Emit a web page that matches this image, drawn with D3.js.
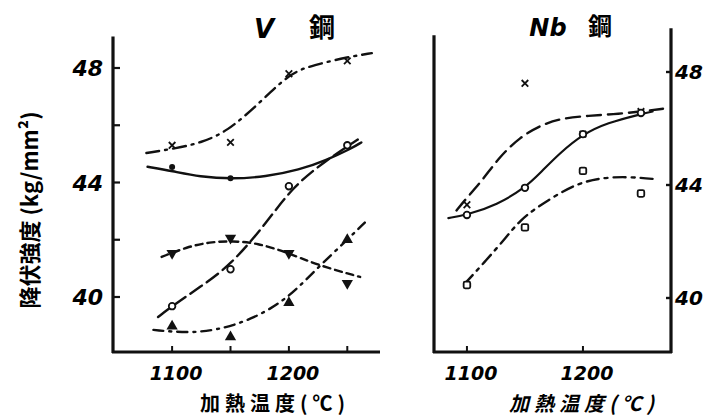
<!DOCTYPE html>
<html>
<head>
<meta charset="utf-8">
<script src="https://cdn.jsdelivr.net/npm/d3@7"></script>
<style>
  body { margin: 0; background: #fff; }
  svg { display: block; }
  .num { font-family: "DejaVu Sans", sans-serif; font-style: italic; font-weight: bold; }
  .cjk { font-family: "Noto Sans CJK JP", sans-serif; font-weight: bold; }
</style>
</head>
<body>
<div id="chart"></div>
<script>
// heating temperatures (deg C)
const temps = [1100, 1150, 1200, 1250];

// V steel, measured yield strength (kg/mm2)
const vCross  = [45.3, 45.4, 47.8, 48.25];
const vDot    = [44.54, 44.15, null, 45.3];
const vCircle = [39.68, 40.97, 43.87, 45.3];
const vDown   = [41.53, 42.06, 41.53, 40.48];
const vUp     = [38.98, 38.6, 39.8, 42.0];

// V steel, hand drawn curves [temp, value]
const vCrossCurve  = [[1078,45.03],[1104,45.2],[1124,45.38],[1147,45.77],[1175,46.78],[1201,47.83],[1221,48.1],[1250,48.38],[1271,48.52]];
const vDotCurve    = [[1079,44.55],[1100,44.4],[1124,44.2],[1151,44.12],[1180,44.2],[1209,44.44],[1232,44.78],[1254,45.2],[1262,45.4]];
const vCircleCurve = [[1088,39.3],[1100,39.68],[1124,40.35],[1150,41.1],[1181,42.6],[1203,43.84],[1232,44.78],[1259,45.5]];
const vDownCurve   = [[1091,41.4],[1113,41.75],[1132,41.92],[1152,41.96],[1173,41.88],[1198,41.57],[1224,41.12],[1261,40.7]];
const vUpCurve     = [[1084,38.85],[1113,38.74],[1138,38.84],[1167,39.19],[1198,39.9],[1224,41.0],[1250,42.0],[1265,42.6]];

// Nb steel, measured
const nbCross  = [43.3, 47.6, 45.8, 46.6];
const nbCircle = [42.94, 43.9, 45.8, 46.55];
const nbSquare = [40.46, 42.5, 44.5, 43.7];

// Nb steel, curves
const nbCrossCurve  = [[1091,43.1],[1100,43.55],[1114,44.2],[1128,45.0],[1146,45.7],[1163,46.1],[1180,46.35],[1203,46.45],[1226,46.5],[1250,46.6],[1269,46.7]];
const nbCircleCurve = [[1084,42.83],[1100,42.94],[1126,43.3],[1150,43.9],[1163,44.42],[1180,45.13],[1200,45.8],[1221,46.2],[1249,46.5],[1260,46.6]];
const nbSquareCurve = [[1098,40.5],[1117,41.35],[1134,42.16],[1146,42.76],[1160,43.2],[1180,43.72],[1197,44.07],[1215,44.25],[1238,44.3],[1264,44.2]];

const vXTicks = [1100, 1150, 1200, 1250];
const nbXTicks = [1100, 1200];
const xTickLabels = ["1100", "1200"];
const vYTicks = [40, 42, 44, 46, 48];
const yTickLabels = [40, 44, 48];

const W = 720, H = 419;
const svg = d3.select("#chart").append("svg").attr("width", W).attr("height", H);

// scales
let xV = d3.scaleLinear().domain([1049.4, 1278]).range([113, 380]);
let yV = d3.scaleLinear().domain([40, 48]).range([297, 68]);
let xN = d3.scaleLinear().domain([1071.6, 1275.9]).range([434, 671]);
let yN = d3.scaleLinear().domain([40, 48]).range([298, 72]);

const ink = "#111";

function drawCurve(x, y, pts, dash, w) {
    const line = d3.line().x(d => x(d[0])).y(d => y(d[1])).curve(d3.curveBasis);
    svg.append("path").attr("d", line(pts))
        .attr("fill", "none").attr("stroke", ink)
        .attr("stroke-width", w || 2.4)
        .attr("stroke-dasharray", dash)
        .attr("stroke-linecap", "round");
}

function drawMarks(x, y, vals, kind) {
    const pts = temps.map((t, i) => [t, vals[i]]).filter(d => d[1] != null);
    const g = svg.append("g");
    pts.forEach(function (d) {
        const px = x(d[0]), py = y(d[1]);
        if (kind == "cross") {
            g.append("path").attr("d", d3.symbol().type(d3.symbolTimes).size(30)())
                .attr("transform", `translate(${px},${py})`)
                .attr("fill", "none").attr("stroke", ink).attr("stroke-width", 1.8);
        } else if (kind == "dot") {
            g.append("circle").attr("cx", px).attr("cy", py).attr("r", 3).attr("fill", ink);
        } else if (kind == "circle") {
            g.append("circle").attr("cx", px).attr("cy", py).attr("r", 3.3)
                .attr("fill", "#fff").attr("stroke", ink).attr("stroke-width", 1.8);
        } else if (kind == "square") {
            g.append("rect").attr("x", px - 3.3).attr("y", py - 3.3).attr("width", 6.6).attr("height", 6.6)
                .attr("rx", 1.5).attr("fill", "#fff").attr("stroke", ink).attr("stroke-width", 1.8);
        } else if (kind == "up" || kind == "down") {
            g.append("path").attr("d", d3.symbol().type(d3.symbolTriangle).size(55)())
                .attr("transform", `translate(${px},${py}) rotate(${kind == "down" ? 180 : 0})`)
                .attr("fill", ink);
        }
    });
}

// ---- V steel panel ----
svg.append("line").attr("x1", 113).attr("x2", 113).attr("y1", yV(49.1)).attr("y2", 353)
    .attr("stroke", ink).attr("stroke-width", 3.2);
svg.append("line").attr("x1", 112).attr("x2", xV(1278)).attr("y1", 352).attr("y2", 352)
    .attr("stroke", ink).attr("stroke-width", 3.2);

svg.selectAll(".vyt").data(vYTicks).enter().append("line")
    .attr("x1", 113).attr("x2", 120).attr("y1", d => yV(d)).attr("y2", d => yV(d))
    .attr("stroke", ink).attr("stroke-width", 2.2);
svg.selectAll(".vyl").data(yTickLabels).enter().append("text")
    .attr("class", "num").attr("x", 103).attr("y", d => yV(d) + 8)
    .attr("text-anchor", "end").attr("font-size", 22).attr("font-style", "normal")
    .text(d => d);

svg.selectAll(".vxt").data(vXTicks).enter().append("line")
    .attr("x1", d => xV(d)).attr("x2", d => xV(d)).attr("y1", 352).attr("y2", 346)
    .attr("stroke", ink).attr("stroke-width", 2);
svg.selectAll(".vxl").data(xTickLabels).enter().append("text")
    .attr("class", "num").attr("x", d => xV(+d) + 4).attr("y", 380)
    .attr("text-anchor", "middle").attr("font-size", 19)
    .text(d => d);

svg.append("text").attr("class", "cjk").attr("x", 275).attr("y", 411)
    .attr("text-anchor", "middle").attr("font-size", 20).attr("letter-spacing", 5)
    .text("加熱温度(℃)");
svg.append("text").attr("class", "num").attr("x", 264).attr("y", 38)
    .attr("text-anchor", "middle").attr("font-size", 26).attr("font-style", "normal").attr("font-weight", "normal").text("V");
svg.append("text").attr("class", "cjk").attr("x", 322).attr("y", 37)
    .attr("text-anchor", "middle").attr("font-size", 26).text("鋼");

drawCurve(xV, yV, vCrossCurve, "13,6,2,6");
drawCurve(xV, yV, vDotCurve, null);
drawCurve(xV, yV, vCircleCurve, "14,6");
drawCurve(xV, yV, vDownCurve, "7,5");
drawCurve(xV, yV, vUpCurve, "10,6,2,6");

drawMarks(xV, yV, vCross, "cross");
drawMarks(xV, yV, vDot, "dot");
drawMarks(xV, yV, vCircle, "circle");
drawMarks(xV, yV, vDown, "down");
drawMarks(xV, yV, vUp, "up");

// ---- Nb steel panel ----
svg.append("line").attr("x1", 434).attr("x2", 434).attr("y1", yN(49.3)).attr("y2", 353)
    .attr("stroke", ink).attr("stroke-width", 3.2);
svg.append("line").attr("x1", 671).attr("x2", 671).attr("y1", yN(49.55)).attr("y2", 353)
    .attr("stroke", ink).attr("stroke-width", 3.2);
svg.append("line").attr("x1", 433).attr("x2", 672).attr("y1", 352).attr("y2", 352)
    .attr("stroke", ink).attr("stroke-width", 3.2);

svg.selectAll(".nyt").data(yTickLabels).enter().append("line")
    .attr("x1", 666).attr("x2", 671).attr("y1", d => yN(d)).attr("y2", d => yN(d))
    .attr("stroke", ink).attr("stroke-width", 2.4);
svg.selectAll(".nyl").data(yTickLabels).enter().append("text")
    .attr("class", "num").attr("x", 675).attr("y", d => yN(d) + 7)
    .attr("text-anchor", "start").attr("font-size", 20)
    .text(d => d);

svg.selectAll(".nxt").data(nbXTicks).enter().append("line")
    .attr("x1", d => xN(d)).attr("x2", d => xN(d)).attr("y1", 352).attr("y2", 346)
    .attr("stroke", ink).attr("stroke-width", 2);
svg.selectAll(".nxl").data(xTickLabels).enter().append("text")
    .attr("class", "num").attr("x", d => xN(+d) + 4).attr("y", 380)
    .attr("text-anchor", "middle").attr("font-size", 19)
    .text(d => d);

svg.append("text").attr("class", "cjk").attr("x", 584).attr("y", 411)
    .attr("text-anchor", "middle").attr("font-size", 20).attr("letter-spacing", 5)
    .attr("font-style", "italic").text("加熱温度(℃)");
svg.append("text").attr("class", "num").attr("x", 548).attr("y", 36)
    .attr("text-anchor", "middle").attr("font-size", 24).attr("font-style", "normal").text("Nb");
svg.append("text").attr("class", "cjk").attr("x", 600).attr("y", 35)
    .attr("text-anchor", "middle").attr("font-size", 24).text("鋼");

drawCurve(xN, yN, nbCrossCurve, "14,7");
drawCurve(xN, yN, nbCircleCurve, null, 2.2);
drawCurve(xN, yN, nbSquareCurve, "12,6,3,6");

drawMarks(xN, yN, nbCross, "cross");
drawMarks(xN, yN, nbCircle, "circle");
drawMarks(xN, yN, nbSquare, "square");

// y axis title
svg.append("text").attr("class", "cjk")
    .attr("transform", "translate(38,210) rotate(-90)")
    .attr("text-anchor", "middle").attr("font-size", 22)
    .text("降伏強度 (kg/mm²)");
</script>
</body>
</html>
